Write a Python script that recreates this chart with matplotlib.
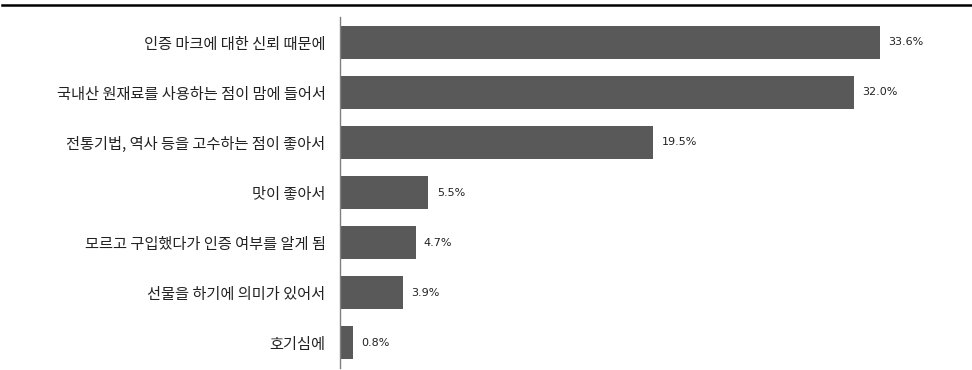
import matplotlib
matplotlib.use("Agg")
import matplotlib.pyplot as plt
from matplotlib.lines import Line2D

plt.rcParams['font.family'] = ['Noto Sans CJK KR', 'DejaVu Sans']

categories = ["인증 마크에 대한 신뢰 때문에",
              "국내산 원재료를 사용하는 점이 맘에 들어서",
              "전통기법, 역사 등을 고수하는 점이 좋아서",
              "맛이 좋아서",
              "모르고 구입했다가 인증 여부를 알게 됨",
              "선물을 하기에 의미가 있어서",
              "호기심에"]
values = [33.6, 32.0, 19.5, 5.5, 4.7, 3.9, 0.8]
value_labels = ["33.6%", "32.0%", "19.5%", "5.5%", "4.7%", "3.9%", "0.8%"]

fig = plt.figure(figsize=(9.72, 3.70), dpi=100)
ax = fig.add_axes([340/972, 2/370, 600/972, 351/370])

pos = list(range(len(categories)))
ax.barh(pos, values, height=0.66, color='#595959', edgecolor='none')
ax.set_ylim(len(categories) - 0.5, -0.5)
ax.set_xlim(0, 600/16.07)

ax.set_yticks(pos)
ax.set_yticklabels(categories, fontsize=11, color='#222222')
ax.tick_params(axis='y', length=0, pad=10.5)
ax.set_xticks([])
for s in ['top', 'right', 'bottom']:
    ax.spines[s].set_visible(False)
ax.spines['left'].set_color('#808080')
ax.spines['left'].set_linewidth(1.0)

for p, v, t in zip(pos, values, value_labels):
    ax.annotate(t, xy=(v, p), xytext=(6, 0), textcoords='offset points',
                ha='left', va='center', fontsize=8, color='#222222',
                family=['DejaVu Sans'])

fig.add_artist(Line2D([2/972, 1.0], [365/370, 365/370], transform=fig.transFigure,
                      color='black', linewidth=1.8))

fig.savefig('out.png', dpi=100)
